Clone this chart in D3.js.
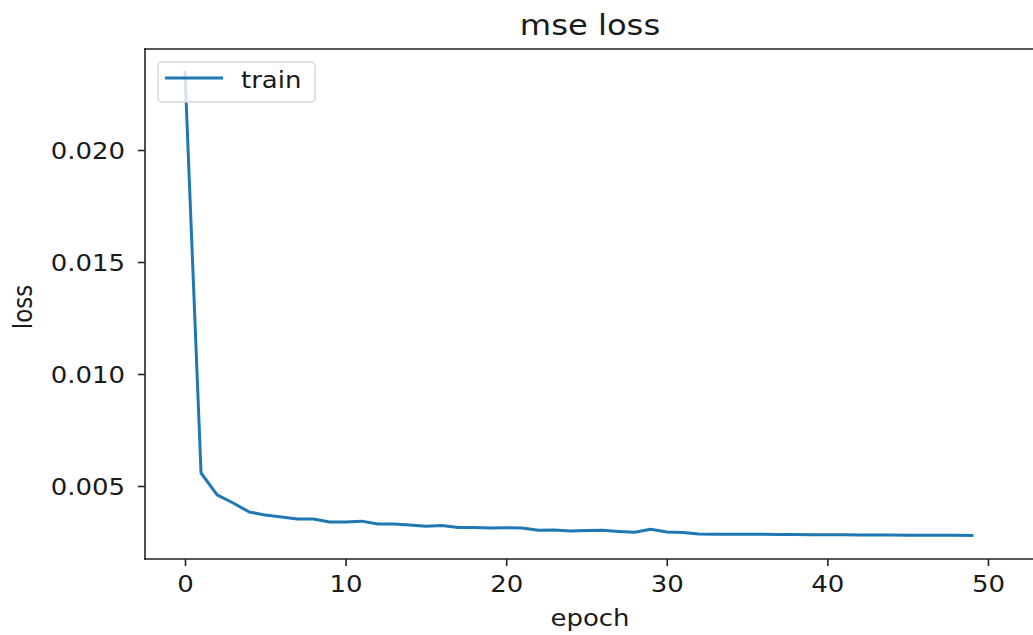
<!DOCTYPE html>
<html>
<head>
<meta charset="utf-8">
<script src="https://cdn.jsdelivr.net/npm/d3@7"></script>
<style>
  body { margin: 0; background: #fff; }
  svg text { font-family: "DejaVu Sans", sans-serif; fill: #1a1a1a; }
</style>
</head>
<body>
<script>
// training loss per epoch
let epochs = d3.range(0, 50);
let trainLoss = [
    0.02347, 0.00558, 0.00460, 0.00424, 0.00384, 0.00370, 0.00362, 0.00353, 0.00353, 0.00339,
    0.00339, 0.00343, 0.00330, 0.00330, 0.00326, 0.00320, 0.00324, 0.00315, 0.00315, 0.00312,
    0.00314, 0.00312, 0.00302, 0.00304, 0.00299, 0.00301, 0.00302, 0.00297, 0.00293, 0.00307,
    0.00295, 0.00292, 0.00286, 0.00285, 0.00285, 0.00284, 0.00284, 0.00283, 0.00283, 0.00282,
    0.00282, 0.00282, 0.00281, 0.00281, 0.00281, 0.00280, 0.00280, 0.00280, 0.00280, 0.00279
];
let xTicks = [0, 10, 20, 30, 40, 50];
let yTicks = [0.005, 0.010, 0.015, 0.020];
let title = 'mse loss';
let xLabel = 'epoch';
let yLabel = 'loss';
let seriesName = 'train';

let W = 1033, H = 635;
// plot box (window.top is taken, so prefix these)
let ax_l = 145, ax_r = 1035, ax_t = 49, ax_b = 559;
let lineColor = '#1f77b4';
let fs = 23;        // font size of ticks / labels
let sx = 1.13;      // the picture is a bit wider than tall, text too

let svg = d3.select('body')
    .append('svg')
        .attr('width', W)
        .attr('height', H);

let x = d3.scaleLinear().domain([-2.49, 52.93]).range([ax_l, ax_r]);
let y = d3.scaleLinear().domain([0.00174, 0.02451]).range([ax_b, ax_t]);

// the line
let line = d3.line()
    .x((d, i) => x(epochs[i]))
    .y(d => y(d));
svg.append('path')
    .datum(trainLoss)
    .attr('fill', 'none')
    .attr('stroke', lineColor)
    .attr('stroke-width', 3)
    .attr('stroke-linejoin', 'round')
    .attr('stroke-linecap', 'square')
    .attr('d', line);

// axes
let xAxis = svg.append('g')
    .attr('transform', 'translate(0,' + ax_b + ')')
    .call(d3.axisBottom(x).tickValues(xTicks).tickSize(7).tickFormat(d3.format('d')));
let yAxis = svg.append('g')
    .attr('transform', 'translate(' + ax_l + ',0)')
    .call(d3.axisLeft(y).tickValues(yTicks).tickSize(7).tickFormat(d3.format('.3f')));

[xAxis, yAxis].forEach(function(a) {
    a.select('.domain').remove();
    a.selectAll('.tick line').attr('stroke', '#222').attr('stroke-width', 1.6);
    a.selectAll('.tick text')
        .attr('font-size', fs)
        .attr('fill', '#1a1a1a')
        .attr('transform', 'scale(' + sx + ',1)');
});
xAxis.selectAll('.tick text').attr('x', 0).attr('y', 33).attr('dy', 0);
yAxis.selectAll('.tick text').attr('x', -20 / sx).attr('dy', '0.36em');

// spines (box)
function AddSpine(x1, y1, x2, y2) {
    svg.append('line')
        .attr('x1', x1).attr('y1', y1).attr('x2', x2).attr('y2', y2)
        .attr('stroke', '#222')
        .attr('stroke-width', 1.6)
        .attr('stroke-linecap', 'square');
}
AddSpine(ax_l, ax_t, ax_r, ax_t);
AddSpine(ax_l, ax_b, ax_r, ax_b);
AddSpine(ax_l, ax_t, ax_l, ax_b);
AddSpine(ax_r, ax_t, ax_r, ax_b);

// title and labels
svg.append('text')
    .attr('transform', 'translate(' + ((ax_l + ax_r) / 2) + ',35) scale(' + sx + ',1)')
    .attr('text-anchor', 'middle')
    .attr('font-size', 28.5)
    .text(title);
svg.append('text')
    .attr('transform', 'translate(' + ((ax_l + ax_r) / 2) + ',626) scale(' + sx + ',1)')
    .attr('text-anchor', 'middle')
    .attr('font-size', fs)
    .text(xLabel);
svg.append('text')
    .attr('transform', 'translate(32,' + ((ax_t + ax_b) / 2 + 3) + ') scale(' + sx + ',1) rotate(-90)')
    .attr('text-anchor', 'middle')
    .attr('font-size', fs)
    .text(yLabel);

// legend
let lg = svg.append('g').attr('transform', 'translate(158,62)');
lg.append('rect')
    .attr('width', 157)
    .attr('height', 40)
    .attr('rx', 4)
    .attr('fill', 'white')
    .attr('fill-opacity', 0.8)
    .attr('stroke', '#d6d6d6')
    .attr('stroke-width', 1.4);
lg.append('line')
    .attr('x1', 7).attr('x2', 65)
    .attr('y1', 16).attr('y2', 16)
    .attr('stroke', lineColor)
    .attr('stroke-width', 3);
lg.append('text')
    .attr('transform', 'translate(83,26) scale(' + sx + ',1)')
    .attr('font-size', fs)
    .text(seriesName);
</script>
</body>
</html>
